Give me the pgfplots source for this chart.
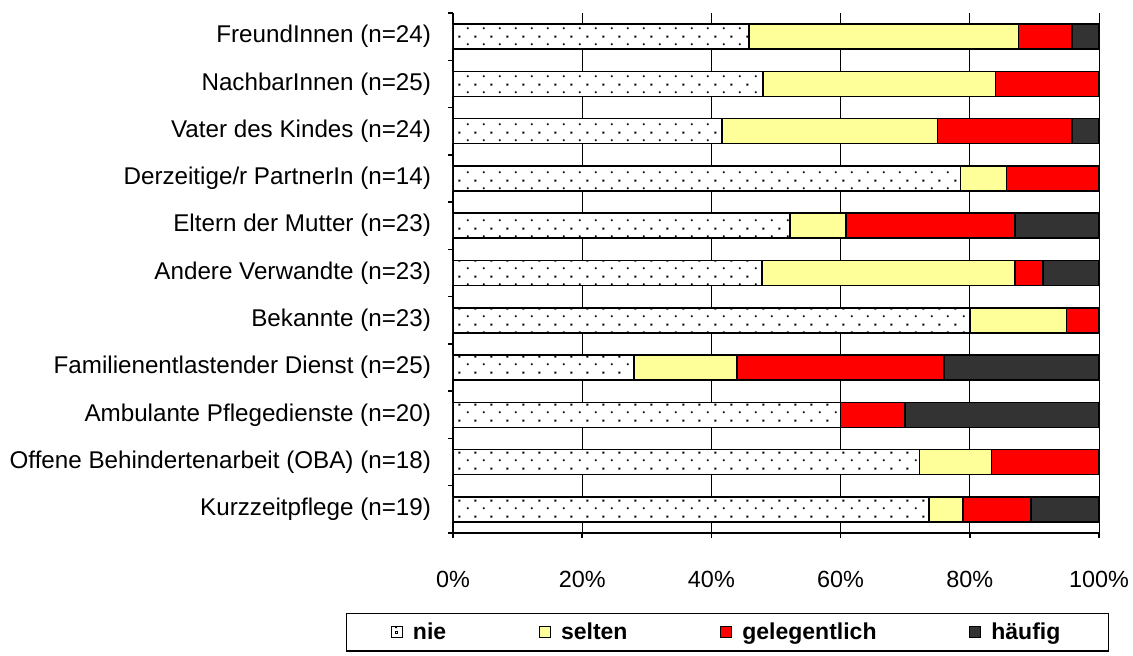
\documentclass[border=0pt]{standalone}
\usepackage{pgfplots}
\pgfplotsset{compat=1.18}
\usepackage{pgfplotstable}
\usepackage{fontspec}
\setmainfont{Liberation Sans}
\usetikzlibrary{patterns}
\pgfdeclarepatternformonly{sparsedots}{\pgfqpoint{0pt}{0pt}}{\pgfqpoint{8pt}{8pt}}{\pgfqpoint{8pt}{8pt}}{%
  \pgfpathrectangle{\pgfqpoint{1.5pt}{1.5pt}}{\pgfqpoint{1pt}{1pt}}%
  \pgfpathrectangle{\pgfqpoint{5.5pt}{5.5pt}}{\pgfqpoint{1pt}{1pt}}%
  \pgfusepath{fill}}
\definecolor{selten}{HTML}{FFFF99}
\definecolor{gelegentlich}{HTML}{FF0000}
\definecolor{haeufig}{HTML}{333333}

\pgfplotstableread{
y nie selten gel haeufig
10 45.83 41.67 8.33 4.17
9 48.00 36.00 16.00 0
8 41.67 33.33 20.83 4.17
7 78.57 7.14 14.29 0
6 52.17 8.70 26.09 13.04
5 47.83 39.13 4.35 8.70
4 80.00 15.00 5.00 0
3 28.00 16.00 32.00 24.00
2 60.00 0 10.00 30.00
1 72.22 11.11 16.67 0
0 73.68 5.26 10.53 10.53
}\datatable

\begin{document}
\begin{tikzpicture}
\useasboundingbox (-226.5pt,-61pt) rectangle (340pt,266.5pt);
\begin{axis}[
  at={(0,0)}, anchor=south west,
  scale only axis, width=323pt, height=260pt,
  xbar stacked, bar width=12.5pt,
  xmin=0, xmax=100, ymin=-0.5, ymax=10.5,
  axis x line*=bottom, axis y line*=left,
  axis line style={black, line width=0.75pt},
  xtick={0,20,...,100},
  xticklabels={0\%,20\%,40\%,60\%,80\%,100\%},
  xmajorgrids, grid style={black, line width=0.5pt},
  ytick={-0.5,0.5,...,10.5},
  yticklabels={},
  extra y ticks={0,1,...,10},
  extra y tick labels={Kurzzeitpflege (n=19),Offene Behindertenarbeit (OBA) (n=18),Ambulante Pflegedienste (n=20),Familienentlastender Dienst (n=25),Bekannte (n=23),Andere Verwandte (n=23),Eltern der Mutter (n=23),Derzeitige/r PartnerIn (n=14),Vater des Kindes (n=24),NachbarInnen (n=25),FreundInnen (n=24)},
  extra y tick style={major tick length=0pt, grid=none},
  tick align=outside, major tick length=2.5pt,
  tick style={black, line width=0.75pt},
  xticklabel style={font=\fontsize{11.7}{13}\selectfont},
  yticklabel style={font=\fontsize{12.1}{14}\selectfont},
  xticklabel shift=13pt, yticklabel shift=7.5pt,
  legend columns=4,
  legend style={at={(0.425,-0.1538)}, anchor=north, draw=black, line width=0.75pt,
    font=\bfseries\fontsize{11.5}{13}\selectfont, inner xsep=22pt, inner ysep=2.4pt,
    /tikz/every even column/.append style={column sep=44.3pt}},
  legend image code/.code={\draw[#1, line width=0.5pt] (0pt,-2.75pt) rectangle (5.5pt,2.75pt); \path (8.5pt,0pt);},
]
\addplot[fill=white, draw=black, line width=0.75pt, postaction={pattern=sparsedots},
  legend image code/.code={\draw[fill=white, line width=0.5pt] (0pt,-2.75pt) rectangle (5.5pt,2.75pt); \fill (2.25pt,-0.5pt) rectangle (3.25pt,0.5pt); \path (8.5pt,0pt);}]
  table[x=nie, y=y]{\datatable};
\addplot[fill=selten, draw=black, line width=0.75pt] table[x=selten, y=y]{\datatable};
\addplot[fill=gelegentlich, draw=black, line width=0.75pt] table[x=gel, y=y]{\datatable};
\addplot[fill=haeufig, draw=black, line width=0.75pt] table[x=haeufig, y=y]{\datatable};
\legend{nie, selten, gelegentlich, häufig}
\end{axis}
\end{tikzpicture}
\end{document}
